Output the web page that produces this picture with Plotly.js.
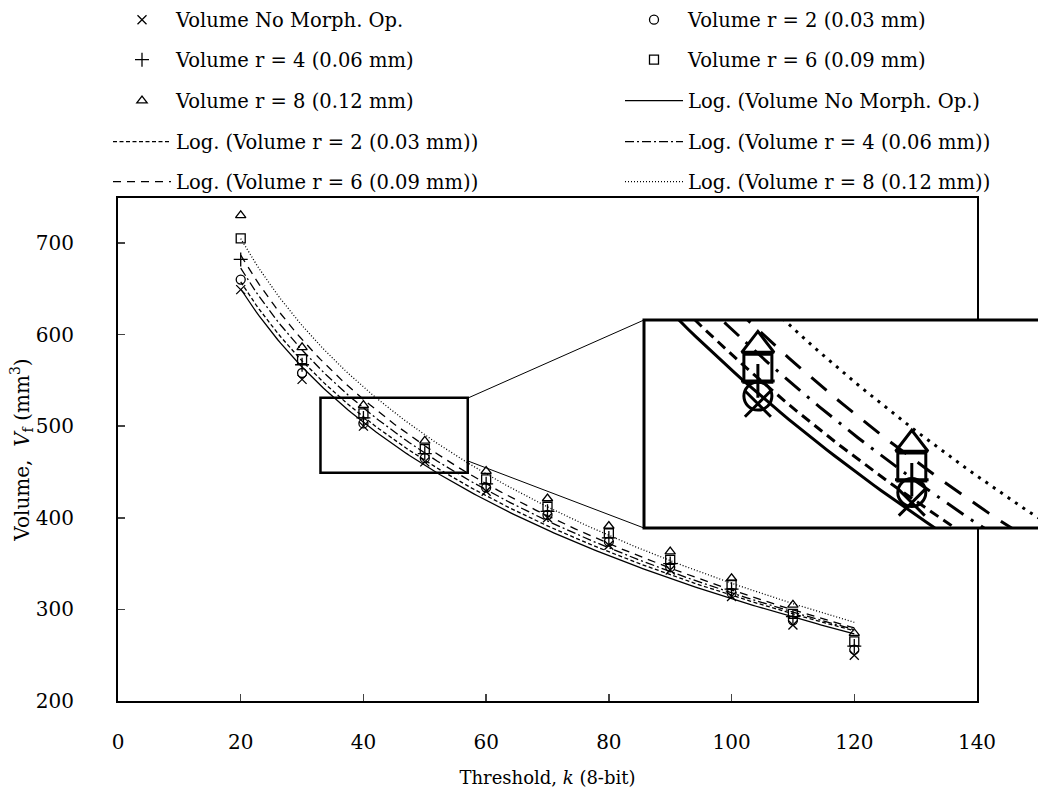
<!DOCTYPE html>
<html><head><meta charset="utf-8">
<script src="https://cdn.plot.ly/plotly-3.0.1.min.js"></script>
<style>html,body{margin:0;padding:0;background:#fff}#chart{width:1038px;height:798px}</style>
</head><body><div id="chart"></div>
<script>
// ---- data ----
const thresholds = [20, 30, 40, 50, 60, 70, 80, 90, 100, 110, 120];
const volNoMorph = [649, 551, 500, 461, 429, 400, 370, 343, 314, 283, 250];
const volR2      = [660, 558, 503, 465, 433, 403, 374, 346, 318, 288, 256];
const volR4      = [682, 567, 509, 470, 437, 407, 378, 350, 322, 292, 260];
const volR6      = [705, 573, 514, 475, 442, 412, 383, 354, 327, 295, 265];
const volR8      = [730, 586, 523, 484, 451, 421, 391, 363, 334, 305, 274];
const markerNames = ['Volume No Morph. Op.', 'Volume r = 2 (0.03 mm)', 'Volume r = 4 (0.06 mm)', 'Volume r = 6 (0.09 mm)', 'Volume r = 8 (0.12 mm)'];
const fitNames = ['Log. (Volume No Morph. Op.)', 'Log. (Volume r = 2 (0.03 mm))', 'Log. (Volume r = 4 (0.06 mm))', 'Log. (Volume r = 6 (0.09 mm))', 'Log. (Volume r = 8 (0.12 mm))'];
const xTicks = [0, 20, 40, 60, 80, 100, 120, 140];
const yTicks = [200, 300, 400, 500, 600, 700];

// ---- styling ----
const FONT = 'DejaVu Serif, serif';
const seriesData = [volNoMorph, volR2, volR4, volR6, volR8];
const symbols = ['x-thin-open', 'circle-open', 'cross-thin-open', 'square-open', 'triangle-up-open'];
const mainSizes = [9, 9, 10, 9, 9];
const insetSizes = [26, 28, 24, 28, 28];
const mainDash = ['solid', '4px,2.5px', '9px,3px,2px,3px', '8px,6px', '1px,2px'];
const insetDash = ['solid', '10px,6px', '20px,9px,3px,9px', '20px,14px', '3px,6px'];
// legend slot for every entry: [column, row]
const markerSlots = [[0, 0], [1, 0], [0, 1], [1, 1], [0, 2]];
const fitSlots = [[1, 2], [0, 3], [1, 3], [0, 4], [1, 4]];

// logarithmic least-squares trendline (as the original "Log." trendlines)
function logFit(xs, ys) {
  const lx = xs.map(Math.log);
  const n = xs.length;
  const mx = lx.reduce((a, b) => a + b, 0) / n;
  const my = ys.reduce((a, b) => a + b, 0) / n;
  let sxy = 0, sxx = 0;
  for (let i = 0; i < n; i++) { sxy += (lx[i] - mx) * (ys[i] - my); sxx += (lx[i] - mx) ** 2; }
  const a = sxy / sxx, b = my - a * mx;
  const fx = [], fy = [];
  const x0 = xs[0], x1 = xs[n - 1];
  for (let k = 0; k <= 200; k++) { const x = x0 + (x1 - x0) * k / 200; fx.push(x); fy.push(a * Math.log(x) + b); }
  return {fx, fy};
}
const fits = seriesData.map(s => logFit(thresholds, s));

// pixel helpers for paper coords (plot paper spans x 118..1038, y 198..701)
const px = v => (v - 118) / 920;
const py = v => (701 - v) / 503;
const colX = [108, 620];
const rowY = [20, 60, 101, 142, 182];
const slotName = (c, r) => { const k = r * 2 + c; return k === 0 ? 'legend' : 'legend' + (k + 1); };

const traces = [];
seriesData.forEach((s, i) => traces.push({
  x: thresholds, y: s, type: 'scatter', mode: 'markers', name: markerNames[i],
  legend: slotName(markerSlots[i][0], markerSlots[i][1]), cliponaxis: false,
  marker: {symbol: symbols[i], size: mainSizes[i], color: '#000', line: {color: '#000', width: 1.3}}
}));
fits.forEach((f, i) => traces.push({
  x: f.fx, y: f.fy, type: 'scatter', mode: 'lines', name: fitNames[i],
  legend: slotName(fitSlots[i][0], fitSlots[i][1]),
  line: {color: '#000', width: 1.3, dash: mainDash[i]}
}));
seriesData.forEach((s, i) => traces.push({
  x: thresholds, y: s, type: 'scatter', mode: 'markers', xaxis: 'x2', yaxis: 'y2', showlegend: false,
  marker: {symbol: symbols[i], size: insetSizes[i], color: '#000', line: {color: '#000', width: 3}}
}));
fits.forEach((f, i) => traces.push({
  x: f.fx, y: f.fy, type: 'scatter', mode: 'lines', xaxis: 'x2', yaxis: 'y2', showlegend: false,
  line: {color: '#000', width: 3, dash: insetDash[i]}
}));

const layout = {
  width: 1038, height: 798,
  margin: {l: 118, r: 0, t: 198, b: 97, autoexpand: false},
  paper_bgcolor: '#fff', plot_bgcolor: '#fff',
  font: {family: FONT, size: 17, color: '#000'},
  xaxis: {domain: [0, 859 / 920], range: [0, 140], tickvals: xTicks, ticks: 'inside', ticklen: 7, tickwidth: 1.5,
    showline: true, linewidth: 2, linecolor: '#000', mirror: true, showgrid: false, zeroline: false,
    ticklabelstandoff: 22,
    tickfont: {family: FONT, size: 20}, title: {text: 'Threshold, <i>k</i> (8-bit)', font: {family: FONT, size: 18}, standoff: 18}},
  yaxis: {domain: [0, 1], range: [200, 749], tickvals: yTicks, ticks: 'inside', ticklen: 7, tickwidth: 1.5,
    showline: true, linewidth: 2, linecolor: '#000', mirror: true, showgrid: false, zeroline: false,
    ticklabelstandoff: 38,
    tickfont: {family: FONT, size: 20}, title: {text: 'Volume,\u00a0 <i>V</i><sub>f</sub> (mm<sup>3</sup>)', font: {family: FONT, size: 20}, standoff: 0}},
  xaxis2: {domain: [px(644), 1], range: [32.6, 58.2], anchor: 'y2', visible: false, showgrid: false, zeroline: false},
  yaxis2: {domain: [py(528), py(320)], range: [451, 533], anchor: 'x2', visible: false, showgrid: false, zeroline: false},
  shapes: [
    {type: 'rect', xref: 'x', yref: 'y', x0: 33, x1: 57, y0: 449, y1: 531, line: {color: '#000', width: 2.5}},
    {type: 'line', xref: 'paper', yref: 'paper', x0: px(468), y0: py(398), x1: px(644), y1: py(320), line: {color: '#000', width: 1}},
    {type: 'line', xref: 'paper', yref: 'paper', x0: px(468), y0: py(461), x1: px(644), y1: py(528), line: {color: '#000', width: 1}},
    {type: 'rect', xref: 'paper', yref: 'paper', x0: px(644), x1: px(1060), y0: py(528), y1: py(320), line: {color: '#000', width: 3}}
  ]
};
for (let r = 0; r < 5; r++) for (let c = 0; c < 2; c++) {
  layout[slotName(c, r)] = {x: px(colX[c]), y: py(rowY[r]), xanchor: 'left', yanchor: 'middle',
    itemwidth: 58, bgcolor: 'rgba(0,0,0,0)', font: {family: FONT, size: 19.5, color: '#000'}};
}

Plotly.newPlot('chart', traces, layout, {displayModeBar: false, staticPlot: true});
</script>
</body></html>
